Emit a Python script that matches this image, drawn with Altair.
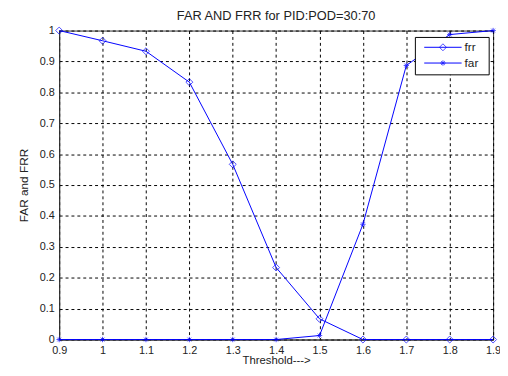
import altair as alt
import pandas as pd

thresholds = [0.9, 1.0, 1.1, 1.2, 1.3, 1.4, 1.5, 1.6, 1.7, 1.8, 1.9]
frr = [1.0, 0.967, 0.933, 0.833, 0.567, 0.233, 0.067, 0.0, 0.0, 0.0, 0.0]
far = [0.0, 0.0, 0.0, 0.0, 0.0, 0.0, 0.013, 0.373, 0.887, 0.987, 1.0]
x_ticks = [0.9, 1.0, 1.1, 1.2, 1.3, 1.4, 1.5, 1.6, 1.7, 1.8, 1.9]
y_ticks = [0, 0.1, 0.2, 0.3, 0.4, 0.5, 0.6, 0.7, 0.8, 0.9, 1.0]
series_names = ["frr", "far"]
title_text = "FAR AND FRR for PID:POD=30:70"

df_frr = pd.DataFrame({"t": thresholds, "v": frr})
df_far = pd.DataFrame({"t": thresholds, "v": far})

BLUE = "#0000ff"
FONT = "Liberation Sans"
TXT = "#222222"
STAR = "M-1,0L1,0M0,-1L0,1M-0.7,-0.7L0.7,0.7M-0.7,0.7L0.7,-0.7"

W, H = 441, 314

xenc = alt.X("t:Q", scale=alt.Scale(domain=[0.9, 1.9], nice=False, zero=False),
             axis=alt.Axis(values=x_ticks, format="~g", title="Threshold--->",
                           labelPadding=5, titleX=W / 2, titleY=26,
                           titleBaseline="bottom", titleAlign="center",
                           titleFontSize=11.5))
yenc = alt.Y("v:Q", scale=alt.Scale(domain=[0, 1], nice=False),
             axis=alt.Axis(values=y_ticks, format="~g", title="FAR and FRR",
                           labelPadding=5, titleX=-36, titleY=H / 2,
                           titleBaseline="middle", titleAlign="center", titleAngle=-90))

frr_line = alt.Chart(df_frr).mark_line(color=BLUE, strokeWidth=1).encode(x=xenc, y=yenc)
frr_pts = alt.Chart(df_frr).mark_point(shape="diamond", color=BLUE, filled=False,
                                        size=50, strokeWidth=1).encode(x=xenc, y=yenc)
far_line = alt.Chart(df_far).mark_line(color=BLUE, strokeWidth=1).encode(x=xenc, y=yenc)
far_pts = alt.Chart(df_far).mark_point(shape=STAR, color=BLUE, filled=False,
                                        size=30, strokeWidth=1).encode(x=xenc, y=yenc)

one = pd.DataFrame({"a": [0]})
title_mark = alt.Chart(one).mark_text(
    text=title_text, align="center", baseline="middle", font=FONT, fontSize=13,
    color=TXT).encode(x=alt.value(W / 2), y=alt.value(-15))

# legend (decoration)
legend_box = alt.Chart(one).mark_rect(
    fill="white", stroke="black", strokeWidth=1).encode(
    x=alt.value(362), x2=alt.value(437), y=alt.value(7), y2=alt.value(45))
leg_line1 = alt.Chart(one).mark_rule(color=BLUE, strokeWidth=1).encode(
    x=alt.value(371), x2=alt.value(409), y=alt.value(17))
leg_line2 = alt.Chart(one).mark_rule(color=BLUE, strokeWidth=1).encode(
    x=alt.value(371), x2=alt.value(409), y=alt.value(33))
leg_pt1 = alt.Chart(one).mark_point(
    shape="diamond", color=BLUE, filled=False, size=50, strokeWidth=1).encode(
    x=alt.value(390), y=alt.value(17))
leg_pt2 = alt.Chart(one).mark_point(
    shape=STAR, color=BLUE, filled=False, size=30, strokeWidth=1).encode(
    x=alt.value(390), y=alt.value(33))
leg_txt1 = alt.Chart(one).mark_text(
    text=series_names[0], align="left", baseline="middle", font=FONT, fontSize=12,
    color=TXT).encode(x=alt.value(412), y=alt.value(17))
leg_txt2 = alt.Chart(one).mark_text(
    text=series_names[1], align="left", baseline="middle", font=FONT, fontSize=12,
    color=TXT).encode(x=alt.value(412), y=alt.value(33))

chart = alt.layer(
    frr_line, far_line, frr_pts, far_pts, title_mark,
    legend_box, leg_line1, leg_line2, leg_pt1, leg_pt2, leg_txt1, leg_txt2,
).properties(
    width=W, height=H,
    autosize=alt.AutoSizeParams(type="none"),
    padding={"left": 52, "top": 20, "right": 7, "bottom": 26},
).configure_view(
    stroke="#333333", strokeWidth=1
).configure_axis(
    grid=True, gridColor="black", gridDash=[3, 3], gridOpacity=1, gridWidth=1,
    domainColor="#333333", ticks=False, labelFont=FONT, labelFontSize=11,
    labelColor=TXT, titleFont=FONT, titleFontSize=12, titleFontWeight="normal",
    titleColor=TXT, labelOverlap=False, labelFlush=False,
)

chart.save("out.html", embed_options={"renderer": "svg", "actions": False})
